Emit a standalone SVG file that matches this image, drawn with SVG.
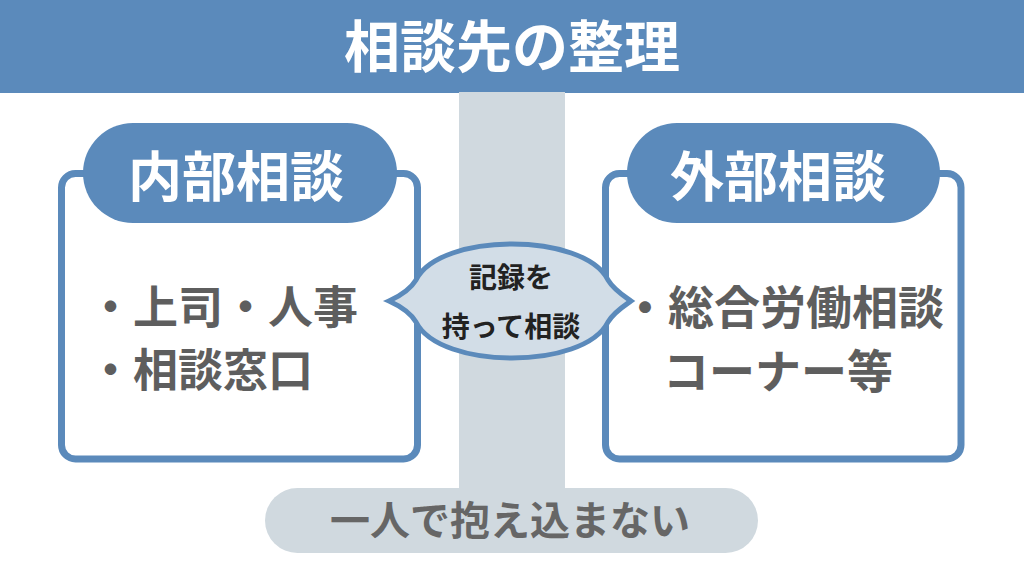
<svg xmlns="http://www.w3.org/2000/svg" width="1024" height="572" viewBox="0 0 1024 572">
<style>
text{font-family:"Noto Sans CJK JP","Noto Sans CJK SC",sans-serif;font-weight:bold;text-anchor:middle}
.box{fill:#ffffff;stroke:#5b8abb;stroke-width:7}
.pill{fill:#5b8abb}
.lbl{fill:#ffffff;font-size:54px}
.item{fill:#5e5e5e;text-anchor:start}
.grey{fill:#d0d9df}
</style>
<rect width="1024" height="572" fill="#ffffff"/>
<g id="header">
<rect x="0" y="0" width="1024" height="93" fill="#5b8abb"/>
<text x="512" y="67" font-size="56" fill="#ffffff">相談先の整理</text>
</g>
<g id="spine">
<rect class="grey" x="459" y="92" width="106" height="400"/>
</g>
<g id="internal">
<rect class="box" x="61.5" y="173.5" width="356" height="285.5" rx="14"/>
<rect class="pill" x="83" y="123" width="314" height="100" rx="50"/>
<text class="lbl" x="236" y="197">内部相談</text>
<text class="item" x="88" y="324" font-size="45">・上司・人事</text>
<text class="item" x="88" y="387" font-size="45">・相談窓口</text>
</g>
<g id="external">
<rect class="box" x="605.5" y="173.5" width="355.5" height="285.5" rx="14"/>
<rect class="pill" x="627" y="123" width="313" height="100" rx="50"/>
<text class="lbl" x="778" y="197">外部相談</text>
<text class="item" x="622" y="324" font-size="46">・総合労働相談</text>
<text class="item" x="663" y="388" font-size="46">コーナー等</text>
</g>
<g id="connectors">
<path id="record" d="M389,301 C400,296 410,290 416,280 C440,232 584,232 608,280 C614,290 624,296 631,301 C624,306 614,312 608,322 C584,370 440,370 416,322 C410,312 400,306 389,301 Z" fill="#d2dde7" stroke="#5b8abb" stroke-width="5" stroke-linejoin="miter"/>
<text x="511" y="288" font-size="28" fill="#222222">記録を</text>
<text x="511" y="337" font-size="28" fill="#222222">持って相談</text>
</g>
<g id="footer">
<rect class="grey" x="265" y="488" width="493" height="65" rx="32.5"/>
<text x="510" y="535" font-size="40" fill="#666666">一人で抱え込まない</text>
</g>
</svg>
